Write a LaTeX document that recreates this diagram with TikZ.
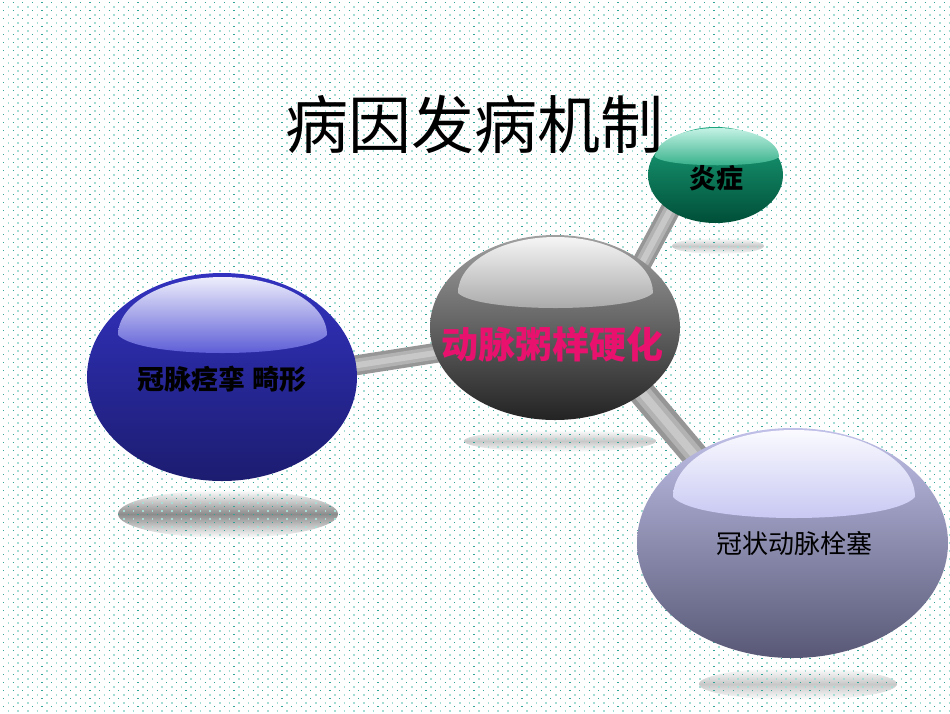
\documentclass[tikz,border=0pt]{standalone}
\usepackage{fontspec}
\newfontfamily\cjk{Noto Sans CJK SC}
\usetikzlibrary{shapes.geometric}
\definecolor{dotdark}{RGB}{50,165,150}
\definecolor{dotlight}{RGB}{165,220,212}
\definecolor{pinktxt}{RGB}{232,18,110}
\definecolor{blueT}{RGB}{50,50,192}
\definecolor{blueB}{RGB}{28,28,112}
\definecolor{blueHT}{RGB}{238,238,252}
\definecolor{blueHB}{RGB}{82,82,212}
\definecolor{grayT}{RGB}{160,160,160}
\definecolor{grayB}{RGB}{35,35,35}
\definecolor{grayHT}{RGB}{245,245,245}
\definecolor{grayHB}{RGB}{165,165,165}
\definecolor{greenT}{RGB}{28,165,125}
\definecolor{greenB}{RGB}{0,78,55}
\definecolor{greenHT}{RGB}{195,242,228}
\definecolor{greenHB}{RGB}{45,172,132}
\definecolor{lavT}{RGB}{192,192,232}
\definecolor{lavB}{RGB}{88,88,118}
\definecolor{lavHT}{RGB}{250,250,255}
\definecolor{lavHB}{RGB}{196,196,242}
\definecolor{shDark}{RGB}{140,140,140}
\definecolor{shLight}{RGB}{200,200,200}
\definecolor{barA}{RGB}{150,150,150}
\definecolor{barB}{RGB}{178,178,178}
\definecolor{barC}{RGB}{200,200,200}
\pgfdeclarelayer{bg}
\pgfsetlayers{bg,main}
\tikzset{
  ball/.style={ellipse, inner sep=0pt, draw=none},
  txt/.style={inner sep=0pt, anchor=center},
  barbase/.style={line cap=butt, shorten <=-10pt, shorten >=-10pt},
  dotrowA/.style={dotdark, line width=1.2pt, dash pattern=on 1.2pt off 8.4pt},
  dotrowB/.style={dotlight, line width=1.6pt, dash pattern=on 1.6pt off 8pt},
}
\begin{document}
\begin{tikzpicture}[x=1pt,y=-1pt]
\useasboundingbox (0,0) rectangle (950,713);
% balls
\node[ball, minimum width=270pt, minimum height=208pt, top color=blueT, bottom color=blueB] (blue) at (222,377) {};
\node[ball, minimum width=250pt, minimum height=185pt, top color=grayT, bottom color=grayB] (core) at (555,327.5) {};
\node[ball, minimum width=135pt, minimum height=96pt, top color=greenT, bottom color=greenB] (green) at (715.5,175) {};
\node[ball, minimum width=311pt, minimum height=230pt, top color=lavT, bottom color=lavB] (lav) at (792.5,543) {};
% highlights
\shade[top color=blueHT, bottom color=blueHB] (118,335) arc[start angle=180, end angle=360, x radius=104.5, y radius=58] .. controls (305,359) and (140,359) .. (118,335) -- cycle;
\shade[top color=grayHT, bottom color=grayHB] (458,293) arc[start angle=180, end angle=360, x radius=97.5, y radius=56] .. controls (633,313) and (478,313) .. (458,293) -- cycle;
\shade[top color=greenHT, bottom color=greenHB] (655,157) arc[start angle=180, end angle=360, x radius=62, y radius=29] .. controls (767,168) and (668,168) .. (655,157) -- cycle;
\shade[top color=lavHT, bottom color=lavHB] (673,497) arc[start angle=180, end angle=360, x radius=121, y radius=67] .. controls (890,525) and (698,525) .. (673,497) -- cycle;
% texts
\node[txt, font=\cjk\fontsize{63}{70}\selectfont] (title) at (474.5,125) {病因发病机制};
\node[txt, font=\cjk\bfseries\fontsize{37}{40}\selectfont, text=pinktxt] (tcore) at (552,344) {动脉粥样硬化};
\node[txt, font=\cjk\bfseries\fontsize{27}{30}\selectfont] (tblue) at (222,379) {冠脉痉挛 畸形};
\node[txt, font=\cjk\bfseries\fontsize{27}{30}\selectfont] (tgreen) at (716,178) {炎症};
\node[txt, font=\cjk\fontsize{26}{30}\selectfont] (tlav) at (794,544) {冠状动脉栓塞};
\begin{pgfonlayer}{bg}
\fill[white] (0,0) rectangle (950,713);
% shadows
\shade[top color=white, bottom color=white, middle color=shDark] (228,514) ellipse [x radius=110, y radius=24];
\shade[top color=white, bottom color=white, middle color=shLight] (560,441) ellipse [x radius=96, y radius=11];
\shade[top color=white, bottom color=white, middle color=shLight] (718,246) ellipse [x radius=46, y radius=8];
\shade[top color=white, bottom color=white, middle color=shLight] (798,684) ellipse [x radius=99, y radius=16];
% dots
\foreach \r in {0,...,89}{
  \draw[dotrowA] (3,\r*8+2.6) -- (952,\r*8+2.6);
  \draw[dotrowB] (7.8,\r*8+6.8) -- (952,\r*8+6.8);
}
% bars
\foreach \a/\b/\w in {blue.5/core.192/20, core.37/green.218/20, core.-37/lav.138/27}{
  \draw[barbase, barA, line width=\w pt] (\a) -- (\b);
  \draw[barbase, barB, line width=0.65*\w pt] (\a) -- (\b);
  \draw[barbase, barC, line width=0.3*\w pt] (\a) -- (\b);
}
\end{pgfonlayer}
\end{tikzpicture}
\end{document}
